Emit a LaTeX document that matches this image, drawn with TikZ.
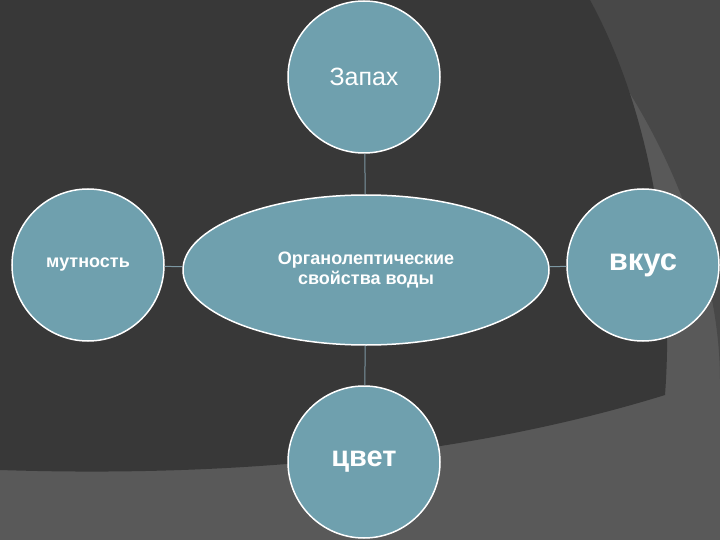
\documentclass[tikz,border=0pt]{standalone}
\usepackage{fontspec}
\setmainfont{Liberation Sans}
\usetikzlibrary{shapes.geometric}
\definecolor{bub}{HTML}{6FA0AE}
\definecolor{bgd}{HTML}{383838}
\definecolor{bgl}{HTML}{595959}
\definecolor{bgm}{HTML}{484848}
\definecolor{lnk}{HTML}{7C97A2}
\begin{document}
\begin{tikzpicture}[x=1pt,y=-1pt,
  bubble/.style={circle,fill=bub,draw=white,line width=1.5pt,minimum size=152pt,inner sep=0pt,text=white,font=\bfseries},
  link/.style={draw=lnk,line width=1pt}]
\fill[bgl] (0,0) rectangle (720,540);
\fill[bgm] (560,0) .. controls (660,110) and (720,260) .. (720,380) -- (720,0) -- cycle;
\fill[bgd] (0,0) -- (590,0) .. controls (650,110) and (675,260) .. (665,395)
  .. controls (520,440) and (300,480) .. (0,470) -- cycle;
\useasboundingbox (0,0) rectangle (720,540);
\node[ellipse,fill=bub,draw=white,line width=1.5pt,minimum width=366pt,minimum height=150pt,inner sep=0pt,text=white,font=\bfseries\fontsize{18}{20}\selectfont,align=center] (c) at (366,270) {Органолептические\\свойства воды};
\node[bubble,font=\fontsize{25}{28}\selectfont] (z) at (364,77) {Запах};
\node[bubble,font=\bfseries\fontsize{18}{20}\selectfont] (m) at (88,265) {мутность};
\node[bubble,font=\bfseries\fontsize{31}{34}\selectfont] (v) at (643,265) {вкус};
\node[bubble,font=\bfseries\fontsize{29}{32}\selectfont] (cv) at (364,462) {цвет};
\draw[link] (z) -- (c);
\draw[link] (cv) -- (c);
\draw[link] (m) -- (c);
\draw[link] (v) -- (c);
\end{tikzpicture}
\end{document}
